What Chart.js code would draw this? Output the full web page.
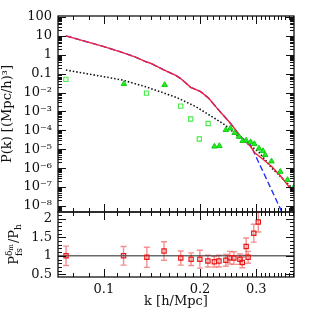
<!DOCTYPE html>
<html>
<head>
<meta charset="utf-8">
<script src="https://cdn.jsdelivr.net/npm/chart.js@4"></script>
<style>
  html, body { margin: 0; padding: 0; background: #fff; }
  #wrap { position: relative; width: 311px; height: 311px; }
  #wrap canvas { position: absolute; left: 0; top: 0; }
</style>
</head>
<body>
<div id="wrap">
  <canvas id="pk" width="311" height="311"></canvas>
  <canvas id="ratio" width="311" height="311"></canvas>
</div>
<script>
// ============= Data =============

const kRed = [0.076, 0.1, 0.114, 0.125, 0.135, 0.14, 0.154, 0.168, 0.174, 0.187, 0.201, 0.213, 0.226, 0.249, 0.268, 0.288, 0.297, 0.305, 0.32, 0.336, 0.357, 0.394];
const pRed = [10, 2.7, 1.34, 0.78, 0.43, 0.355, 0.157, 0.08, 0.055, 0.019, 0.0112, 0.005, 0.0015, 2.4e-4, 4.7e-5, 1.4e-5, 6.5e-6, 4.5e-6, 2.4e-6, 1.2e-6, 4e-7, 5e-8];

const kBlue = [0.076, 0.1, 0.114, 0.125, 0.135, 0.14, 0.154, 0.168, 0.174, 0.187, 0.201, 0.213, 0.226, 0.249, 0.268, 0.288, 0.305, 0.323, 0.342, 0.362, 0.372];
const pBlue = [10, 2.7, 1.34, 0.78, 0.43, 0.355, 0.157, 0.08, 0.055, 0.019, 0.0112, 0.005, 0.0015, 2.4e-4, 4.7e-5, 1.7e-5, 2.1e-6, 2.7e-7, 3.4e-8, 4.3e-9, 1.5e-9];

const kDot = [0.076, 0.1, 0.114, 0.135, 0.15, 0.168, 0.194, 0.218, 0.24, 0.271, 0.281, 0.306, 0.336, 0.394];
const pDot = [0.155, 0.069, 0.046, 0.0205, 0.011, 0.0057, 0.0018, 5.3e-4, 1.9e-4, 3.1e-5, 2.1e-5, 7e-6, 1e-6, 7e-8];

const kSq = [0.076, 0.136, 0.174, 0.187, 0.199, 0.212];
const pSq = [0.05, 0.0093, 0.0019, 3.98e-4, 3.5e-5, 2.3e-4];

const kTri = [0.1155, 0.155, 0.222, 0.230, 0.241, 0.249, 0.257, 0.265, 0.272, 0.279, 0.288, 0.296, 0.306, 0.315, 0.320, 0.335, 0.357, 0.376, 0.395];
const pTri = [0.0285, 0.0252, 1.41e-5, 1.5e-5, 1.05e-4, 1.26e-4, 7.3e-5, 4.6e-5, 2.75e-5, 2.9e-5, 2.4e-5, 1.9e-5, 1.1e-5, 8.1e-6, 5e-6, 2.3e-6, 6.5e-7, 2.4e-7, 1.1e-7];

const kRatio = [0.0761, 0.1152, 0.1363, 0.1543, 0.1741, 0.1876, 0.1998, 0.2117, 0.2217, 0.2293, 0.241, 0.248, 0.2554, 0.2667, 0.2713, 0.279, 0.283, 0.2948, 0.3045];
const ratio = [1.0, 1.0, 0.96, 1.13, 0.94, 0.91, 0.91, 0.86, 0.84, 0.86, 0.88, 0.95, 0.94, 0.91, 0.82, 1.25, 0.96, 1.61, 1.91];
const ratioErr = [0.26, 0.25, 0.27, 0.25, 0.19, 0.17, 0.24, 0.16, 0.14, 0.16, 0.16, 0.17, 0.17, 0.14, 0.14, 0.23, 0.16, 0.24, 0.27];

const xTicks = [0.1, 0.2, 0.3];
const xTickLabels = ["0.1", "0.2", "0.3"];
const yTopTicks = [100, 10, 1, 0.1, 1e-2, 1e-3, 1e-4, 1e-5, 1e-6, 1e-7, 1e-8];
const yTopLabels = ["100", "10", "1", "0.1", "10⁻²", "10⁻³", "10⁻⁴", "10⁻⁵", "10⁻⁶", "10⁻⁷", "10⁻⁸"];
const yBotTicks = [0.5, 1, 1.5, 2];
const yBotLabels = ["0.5", "1", "1.5", "2"];

const X_MIN = 0.0718, X_MAX = 0.394;
const YT_MIN = 4.8e-9, YT_MAX = 112;
const YB_MIN = 0.43, YB_MAX = 2.18;

// ============= Helpers =============

const SERIF = "'DejaVu Serif', serif";
const pts = (xs, ys) => xs.map((x, i) => ({ x, y: ys[i] }));

// minor tick positions (axis decoration only)
const xMinor = [];
for (let i = 7; i <= 39; i++) if (i % 10) xMinor.push(i / 100);
const yTopMinor = [];
for (let e = -9; e <= 2; e++) for (let m = 2; m <= 9; m++) yTopMinor.push(m * Math.pow(10, e));
const yBotMinor = [];
for (let i = 4; i <= 22; i++) if (i % 5) yBotMinor.push(i / 10);

// frame + inward ticks on all four sides
const framePlugin = {
  id: "frame",
  afterDatasetsDraw(chart, args, opts) {
    const { ctx, chartArea: a, scales } = chart;
    const xs = scales.x, ys = scales.y;
    ctx.save();
    ctx.strokeStyle = "#111";
    ctx.lineWidth = 1;
    const line = (x1, y1, x2, y2) => { ctx.beginPath(); ctx.moveTo(x1, y1); ctx.lineTo(x2, y2); ctx.stroke(); };
    for (const [vals, len] of [[xTicks, 8], [xMinor, 4]]) {
      for (const v of vals) {
        const x = Math.round(xs.getPixelForValue(v)) + 0.5;
        if (x <= a.left || x >= a.right) continue;
        line(x, a.top, x, a.top + len);
        line(x, a.bottom, x, a.bottom - len);
      }
    }
    for (const [vals, len] of [[opts.yMajor, 8], [opts.yMinor, 4]]) {
      for (const v of vals) {
        const y = Math.round(ys.getPixelForValue(v)) + 0.5;
        if (y <= a.top || y >= a.bottom) continue;
        line(a.left, y, a.left + len, y);
        line(a.right, y, a.right - len, y);
      }
    }
    ctx.lineWidth = 1.3;
    ctx.strokeRect(a.left, a.top, a.right - a.left, a.bottom - a.top);
    ctx.restore();
  },
};

// error bars for the ratio panel
const errorBarPlugin = {
  id: "errbars",
  beforeDatasetsDraw(chart) {
    const { ctx, scales } = chart;
    ctx.save();
    ctx.beginPath();
    ctx.rect(chart.chartArea.left, chart.chartArea.top, chart.chartArea.width, chart.chartArea.height);
    ctx.clip();
    ctx.strokeStyle = "rgba(240,70,70,0.6)";
    ctx.lineWidth = 1.4;
    kRatio.forEach((k, i) => {
      const x = scales.x.getPixelForValue(k);
      const y1 = scales.y.getPixelForValue(ratio[i] - ratioErr[i]);
      const y2 = scales.y.getPixelForValue(ratio[i] + ratioErr[i]);
      ctx.beginPath();
      ctx.moveTo(x, y1); ctx.lineTo(x, y2);
      ctx.moveTo(x - 3, y1); ctx.lineTo(x + 3, y1);
      ctx.moveTo(x - 3, y2); ctx.lineTo(x + 3, y2);
      ctx.stroke();
    });
    ctx.restore();
  },
};

// rotated y title of the ratio panel, with sub/superscripts
const ratioTitlePlugin = {
  id: "ratioTitle",
  afterDraw(chart) {
    const { ctx, chartArea: a } = chart;
    ctx.save();
    ctx.fillStyle = "#111";
    ctx.textBaseline = "alphabetic";
    const f = (s) => `${s}px ${SERIF}`;
    const w = (t, s) => { ctx.font = f(s); return ctx.measureText(t).width; };
    const wP = w("P", 13), wd = w("δ", 9), wm = w("m", 7), wfs = w("fs", 9), wsP = w("/P", 13), wh = w("h", 9);
    const wScript = Math.max(wd + wm, wfs);
    const total = wP + wScript + 1 + wsP + wh;
    ctx.translate(13, (a.top + a.bottom) / 2);
    ctx.rotate(-Math.PI / 2);
    let x = -total / 2;
    const put = (t, s, dx, dy) => { ctx.font = f(s); ctx.fillText(t, dx, dy); };
    put("P", 13, x, 5); x += wP;
    put("δ", 9, x, -1);
    put("m", 7, x + wd, 0);
    put("fs", 9, x, 9);
    x += wScript + 1;
    put("/P", 13, x, 5); x += wsP;
    put("h", 9, x, 8);
    ctx.restore();
  },
};

const tickFont = { family: SERIF, size: 13 };

// ============= Top panel: P(k) =============

new Chart(document.getElementById("pk"), {
  type: "line",
  data: {
    datasets: [
      { data: pts(kTri, pTri), showLine: false, pointStyle: "triangle", pointRadius: 3.2,
        backgroundColor: "#22ee22", borderColor: "#11cc11", borderWidth: 1, order: 0 },
      { data: pts(kSq, pSq), showLine: false, pointStyle: "rect", pointRadius: 3,
        backgroundColor: "rgba(0,0,0,0)", borderColor: "#44ee44", borderWidth: 1.1, order: 1 },
      { data: pts(kRed, pRed), borderColor: "#f0203a", borderWidth: 1.4, pointRadius: 0, order: 2 },
      { data: pts(kBlue, pBlue), borderColor: "#2233ff", borderWidth: 1.4, borderDash: [6, 3], pointRadius: 0, order: 3 },
      { data: pts(kDot, pDot), borderColor: "#111", borderWidth: 1.6, borderDash: [1.5, 2], pointRadius: 0, order: 4 },
    ],
  },
  options: {
    responsive: false,
    animation: false,
    events: [],
    layout: { padding: { left: 0, right: 17, top: 16, bottom: 99 } },
    plugins: { legend: { display: false }, tooltip: { enabled: false },
      frame: { yMajor: yTopTicks, yMinor: yTopMinor } },
    scales: {
      x: { type: "logarithmic", min: X_MIN, max: X_MAX, display: false },
      y: {
        type: "logarithmic", min: YT_MIN, max: YT_MAX, bounds: "data",
        afterFit: (s) => { s.width = 58; },
        afterBuildTicks: (s) => { s.ticks = yTopTicks.map((v) => ({ value: v })); },
        grid: { display: false, drawTicks: false }, border: { display: false },
        ticks: { font: tickFont, color: "#111", padding: 6, autoSkip: false,
          callback: (v) => yTopLabels[yTopTicks.indexOf(v)] ?? "" },
        title: { display: true, text: "P(k) [(Mpc/h)³]", font: { family: SERIF, size: 13 }, color: "#111", padding: { top: 0, bottom: 0 } },
      },
    },
  },
  plugins: [framePlugin],
});

// ============= Bottom panel: ratio =============

new Chart(document.getElementById("ratio"), {
  type: "line",
  data: {
    datasets: [
      { data: pts(kRatio, ratio), showLine: false, pointStyle: "rect", pointRadius: 3,
        backgroundColor: "rgba(0,0,0,0)", borderColor: "#e81818", borderWidth: 1.2, order: 0 },
      { data: pts([X_MIN, X_MAX], [1, 1]), borderColor: "#222", borderWidth: 1, pointRadius: 0, order: 1 },
    ],
  },
  options: {
    responsive: false,
    animation: false,
    events: [],
    layout: { padding: { left: 0, right: 17, top: 212, bottom: 0 } },
    plugins: { legend: { display: false }, tooltip: { enabled: false },
      frame: { yMajor: yBotTicks, yMinor: yBotMinor } },
    scales: {
      x: {
        type: "logarithmic", min: X_MIN, max: X_MAX, bounds: "data",
        afterFit: (s) => { s.height = 34; },
        afterBuildTicks: (s) => { s.ticks = xTicks.map((v) => ({ value: v })); },
        grid: { display: false, drawTicks: false }, border: { display: false },
        ticks: { font: tickFont, color: "#111", padding: 5, autoSkip: false, maxRotation: 0,
          callback: (v) => xTickLabels[xTicks.indexOf(v)] ?? "" },
        title: { display: true, text: "k [h/Mpc]", font: { family: SERIF, size: 13 }, color: "#111", padding: { top: 0, bottom: 2 } },
      },
      y: {
        type: "linear", min: YB_MIN, max: YB_MAX, bounds: "data",
        afterFit: (s) => { s.width = 58; },
        afterBuildTicks: (s) => { s.ticks = yBotTicks.map((v) => ({ value: v })); },
        grid: { display: false, drawTicks: false }, border: { display: false },
        ticks: { font: tickFont, color: "#111", padding: 6, autoSkip: false,
          callback: (v) => yBotLabels[yBotTicks.indexOf(v)] ?? "" },
      },
    },
  },
  plugins: [errorBarPlugin, framePlugin, ratioTitlePlugin],
});
</script>
</body>
</html>
